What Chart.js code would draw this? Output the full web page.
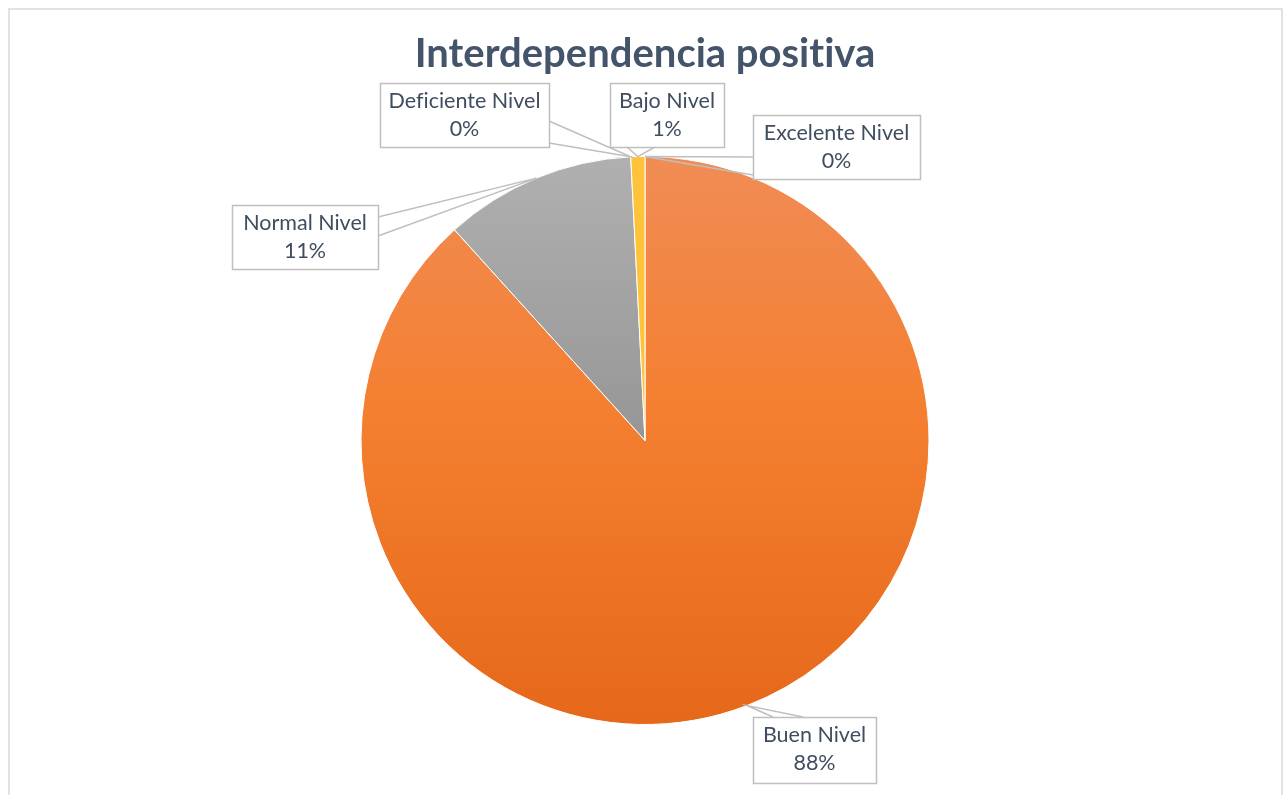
<!DOCTYPE html>
<html>
<head>
<meta charset="utf-8">
<script src="https://cdn.jsdelivr.net/npm/chart.js@4.4.1/dist/chart.umd.min.js"></script>
<style>
  html, body { margin: 0; padding: 0; background: #fff; }
  #wrap { position: relative; width: 1283px; height: 795px; }
</style>
</head>
<body>
<div id="wrap"><canvas id="pieChart" width="1283" height="795"></canvas></div>
<script>
// data, in the order the slices run clockwise from 12 o'clock
var categories = ["Buen Nivel", "Normal Nivel", "Deficiente Nivel", "Bajo Nivel", "Excelente Nivel"];
var percentValues = [88.3, 10.9, 0, 0.8, 0];
var chartTitle = "Interdependencia positiva";

// callout boxes: left, top, width, height and which side the pointer leaves from
var calloutBoxes = [
	{ x: 753, y: 717, w: 123, h: 66, side: "top",    base: [773, 803] },
	{ x: 232, y: 205, w: 146, h: 64, side: "right",  base: [217, 236] },
	{ x: 380, y: 83,  w: 169, h: 64, side: "right",  base: [121, 143] },
	{ x: 610, y: 83,  w: 114, h: 64, side: "bottom", base: [627, 655] },
	{ x: 753, y: 115, w: 167, h: 64, side: "left",   base: [157, 175] }
];

var calloutPlugin = {
	id: 'callouts',
	afterDatasetsDraw: function(chart){
		var ctx = chart.ctx;
		var meta = chart.getDatasetMeta(0);
		var total = percentValues.reduce(function(a, b){ return a + b; }, 0);
		ctx.save();
		meta.data.forEach(function(arc, i){
			var p = arc.getProps(['x', 'y', 'startAngle', 'endAngle', 'outerRadius'], true);
			var mid = (p.startAngle + p.endAngle) / 2;
			var tipX = p.x + Math.cos(mid) * p.outerRadius;
			var tipY = p.y + Math.sin(mid) * p.outerRadius;
			var b = calloutBoxes[i];
			var a1, a2;
			if (b.side === "top") { a1 = [b.base[0], b.y]; a2 = [b.base[1], b.y]; }
			else if (b.side === "bottom") { a1 = [b.base[0], b.y + b.h]; a2 = [b.base[1], b.y + b.h]; }
			else if (b.side === "right") { a1 = [b.x + b.w, b.base[0]]; a2 = [b.x + b.w, b.base[1]]; }
			else { a1 = [b.x, b.base[0]]; a2 = [b.x, b.base[1]]; }

			ctx.strokeStyle = '#bfbfbf';
			ctx.lineWidth = 1.5;
			ctx.fillStyle = '#ffffff';
			ctx.fillRect(b.x, b.y, b.w, b.h);
			ctx.strokeRect(b.x + 0.5, b.y + 0.5, b.w, b.h);
			ctx.beginPath();
			ctx.moveTo(a1[0], a1[1]);
			ctx.lineTo(tipX, tipY);
			ctx.lineTo(a2[0], a2[1]);
			ctx.stroke();

			var pct = Math.round(percentValues[i] / total * 100) + '%';
			ctx.fillStyle = '#404d60';
			ctx.font = '21.5px Lato, "Open Sans", sans-serif';
			ctx.textAlign = 'center';
			ctx.textBaseline = 'middle';
			var cx = b.x + b.w / 2;
			ctx.fillText(categories[i], cx, b.y + 18);
			ctx.fillText(pct, cx, b.y + 46);
		});
		ctx.restore();
	}
};

var framePlugin = {
	id: 'frame',
	beforeDraw: function(chart){
		var ctx = chart.ctx;
		// plain glyphs, no "ti" ligature in the title
		ctx.textRendering = 'optimizeSpeed';
		ctx.save();
		ctx.strokeStyle = '#dfe3e8';
		ctx.lineWidth = 2;
		ctx.beginPath();
		ctx.moveTo(9, 800);
		ctx.lineTo(9, 9);
		ctx.lineTo(1282, 9);
		ctx.lineTo(1282, 800);
		ctx.stroke();
		ctx.restore();
	}
};

var sliceFill = function(context){
	var chart = context.chart;
	var area = chart.chartArea;
	if (!area) return '#f08c55';
	var ctx = chart.ctx;
	var idx = context.dataIndex;
	var g = ctx.createLinearGradient(0, area.top, 0, area.bottom);
	if (idx === 0) {
		g.addColorStop(0, '#f08c55');
		g.addColorStop(0.45, '#f47f30');
		g.addColorStop(1, '#e6681a');
		return g;
	}
	if (idx === 1) {
		g.addColorStop(0, '#b0b0b0');
		g.addColorStop(1, '#7c7c7c');
		return g;
	}
	return '#ffc33a';
};

var ctx = document.getElementById('pieChart').getContext('2d');
new Chart(ctx, {
	type: 'pie',
	data: {
		labels: categories,
		datasets: [{
			data: percentValues,
			backgroundColor: sliceFill,
			borderColor: '#ffffff',
			borderWidth: 1
		}]
	},
	options: {
		responsive: false,
		animation: false,
		layout: { padding: { top: 20, bottom: 70, left: 200, right: 193 } },
		plugins: {
			legend: { display: false },
			tooltip: { enabled: false },
			title: {
				display: true,
				text: chartTitle,
				color: '#44546a',
				font: { family: 'Lato, "Open Sans", sans-serif', size: 40, weight: 'bold', lineHeight: 1.2 },
				padding: { top: 10, bottom: 78 }
			}
		}
	},
	plugins: [framePlugin, calloutPlugin]
});
</script>
</body>
</html>
